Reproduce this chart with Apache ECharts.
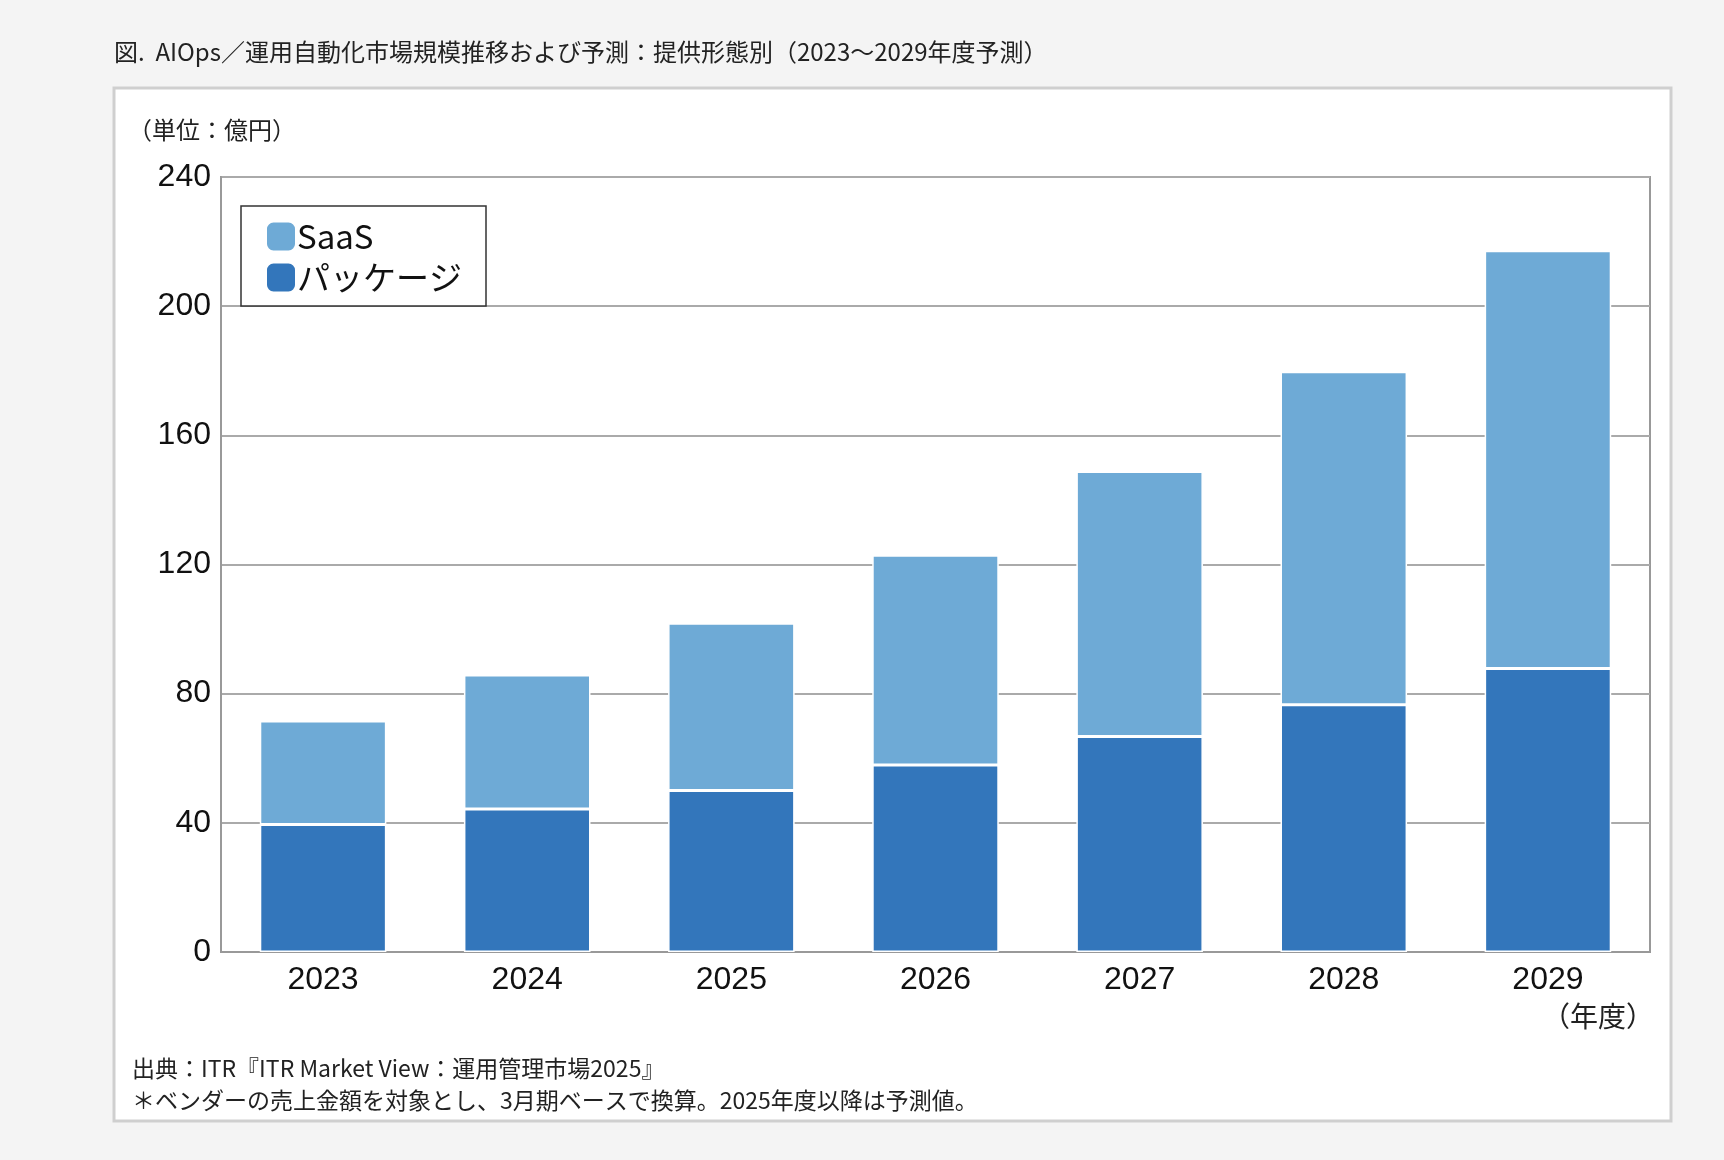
<!DOCTYPE html>
<html style="height: 100%">
<head>
    <meta charset="UTF-8" />
    <script src="https://cdn.jsdelivr.net/npm/echarts@6/dist/echarts.min.js"></script>
</head>
<body style="height: 100%; margin: 0; background: #f4f4f4">
    <div id="main" style="width: 1724px; height: 1160px"></div>
    <script type="text/javascript">
        var years = ['2023', '2024', '2025', '2026', '2027', '2028', '2029'];
        var pkgValues = [39.5, 44.3, 50, 57.9, 66.7, 76.6, 87.8];
        var saasValues = [32, 41.5, 51.8, 65, 82.1, 103.1, 129.4];

        var font = '"Noto Sans CJK JP", "Liberation Sans", sans-serif';
        var myChart = echarts.init(document.getElementById('main'));

        myChart.setOption({
            backgroundColor: '#f4f4f4',
            animation: false,
            textStyle: { fontFamily: font },
            graphic: [
                // 外枠
                { type: 'rect', z: -10, shape: { x: 114, y: 88, width: 1557, height: 1033 },
                  style: { fill: '#fff', stroke: '#cfcfcf', lineWidth: 3 } },
                { type: 'text', left: 114, top: 40,
                  style: { text: '図.  AIOps／運用自動化市場規模推移および予測：提供形態別（2023～2029年度予測）', font: '24px ' + font, fill: '#222' } },
                { type: 'text', left: 128, top: 118,
                  style: { text: '（単位：億円）', font: '24px ' + font, fill: '#222' } },
                { type: 'text', right: 70, top: 1002,
                  style: { text: '（年度）', font: '28px ' + font, fill: '#222' } },
                { type: 'text', left: 132, top: 1052,
                  style: { text: '出典：ITR『ITR Market View：運用管理市場2025』\n＊ベンダーの売上金額を対象とし、3月期ベースで換算。2025年度以降は予測値。',
                           font: '23px ' + font, fill: '#222', lineHeight: 32 } }
            ],
            legend: {
                data: ['SaaS', 'パッケージ'],
                orient: 'vertical',
                left: 241, top: 206,
                padding: [14, 24, 12, 24],
                itemGap: 8,
                itemWidth: 30, itemHeight: 30,
                borderColor: '#333', borderWidth: 1.5,
                backgroundColor: '#fff',
                textStyle: { fontSize: 33, color: '#111', padding: [0, 0, 0, -4] }
            },
            grid: { left: 221, right: 74, top: 177, bottom: 208, show: true, borderColor: '#999', borderWidth: 2 },
            xAxis: {
                type: 'category',
                data: years,
                axisTick: { show: false },
                axisLine: { lineStyle: { color: '#999', width: 2 } },
                axisLabel: { fontSize: 32, color: '#111', margin: 12, fontFamily: '"Liberation Sans", sans-serif' }
            },
            yAxis: {
                type: 'value',
                min: 0, max: 240, interval: 40,
                axisLine: { show: true, lineStyle: { color: '#999', width: 2 } },
                splitLine: { lineStyle: { color: '#aaa', width: 2 } },
                axisLabel: { fontSize: 32, color: '#111', margin: 10, fontFamily: '"Liberation Sans", sans-serif' }
            },
            series: [
                {
                    name: 'パッケージ', type: 'bar', stack: 'total', barWidth: '62%',
                    data: pkgValues,
                    itemStyle: { color: '#3376bb', borderColor: '#fff', borderWidth: 1.5 }
                },
                {
                    name: 'SaaS', type: 'bar', stack: 'total',
                    data: saasValues,
                    itemStyle: { color: '#6eaad6', borderColor: '#fff', borderWidth: 1.5 }
                }
            ]
        });
    </script>
</body>
</html>
